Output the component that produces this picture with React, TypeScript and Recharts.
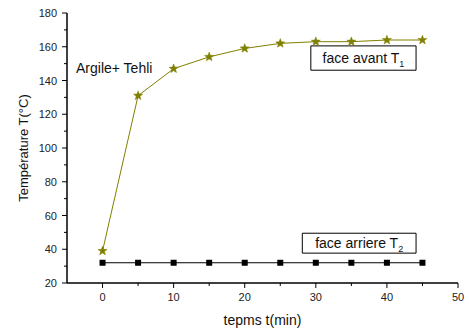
import React from 'react';
import { ComposedChart, Line, XAxis, YAxis, ReferenceArea } from 'recharts';

const times = [0, 5, 10, 15, 20, 25, 30, 35, 40, 45];
const faceAvant = [39, 131, 147, 154, 159, 162, 163, 163, 164, 164];
const faceArriere = [32, 32, 32, 32, 32, 32, 32, 32, 32, 32];
const xTicks = [0, 5, 10, 15, 20, 25, 30, 35, 40, 45, 50];
const yTicks = [20, 30, 40, 50, 60, 70, 80, 90, 100, 110, 120, 130, 140, 150, 160, 170, 180];

const data = times.map((t, i) => ({ t, avant: faceAvant[i], arriere: faceArriere[i] }));

const FONT = '"Liberation Sans", Arial, Helvetica, sans-serif';
const OLIVE = '#808000';

const XTick = (props: any) => {
  const { x, y, payload } = props;
  const v = payload.value;
  const major = v % 10 === 0;
  return (
    <g>
      <line x1={x} x2={x} y1={y} y2={y + (major ? 5 : 3)} stroke="#000" strokeWidth={1} />
      {major && (
        <text x={x} y={y + 18} textAnchor="middle" fontSize={11} fontFamily={FONT} fill="#222">
          {v}
        </text>
      )}
    </g>
  );
};

const YTick = (props: any) => {
  const { x, y, payload } = props;
  const v = payload.value;
  const major = v % 20 === 0;
  return (
    <g>
      <line x1={x} x2={x - (major ? 5 : 3)} y1={y} y2={y} stroke="#000" strokeWidth={1} />
      {major && (
        <text x={x - 10} y={y + 4} textAnchor="end" fontSize={11} fontFamily={FONT} fill="#222">
          {v}
        </text>
      )}
    </g>
  );
};

const Star = (props: any) => {
  const { cx, cy } = props;
  if (cx == null || cy == null) return null;
  const pts: string[] = [];
  for (let i = 0; i < 10; i++) {
    const r = i % 2 === 0 ? 4.8 : 2.0;
    const a = -Math.PI / 2 + (i * Math.PI) / 5;
    pts.push(`${cx + r * Math.cos(a)},${cy + r * Math.sin(a)}`);
  }
  return <polygon points={pts.join(' ')} fill={OLIVE} stroke={OLIVE} strokeWidth={0.5} />;
};

const Square = (props: any) => {
  const { cx, cy } = props;
  if (cx == null || cy == null) return null;
  return <rect x={cx - 3} y={cy - 3} width={6} height={6} fill="#000" />;
};

const BoxLabel = (props: any) => {
  const { viewBox, text, sub } = props;
  if (!viewBox) return null;
  const cx = viewBox.x + viewBox.width / 2;
  const cy = viewBox.y + viewBox.height / 2;
  return (
    <text x={cx} y={cy + 5} textAnchor="middle" fontSize={14} fontFamily={FONT} fill="#111">
      {text}
      <tspan fontSize={9} dy={4}>{sub}</tspan>
    </text>
  );
};

const YTitle = (props: any) => {
  const { viewBox } = props;
  if (!viewBox) return null;
  const cy = viewBox.y + viewBox.height / 2;
  return (
    <text x={23} y={cy} transform={`rotate(-90, 23, ${cy})`} textAnchor="middle" dominantBaseline="central" fontSize={13} fontFamily={FONT} fill="#111">
      Température T(°C)
    </text>
  );
};

const XTitle = (props: any) => {
  const { viewBox } = props;
  if (!viewBox) return null;
  const cx = viewBox.x + viewBox.width / 2;
  return (
    <text x={cx} y={325} textAnchor="middle" fontSize={14} fontFamily={FONT} fill="#111">
      tepms t(min)
    </text>
  );
};

export default function App() {
  return (
    <div style={{ position: 'absolute', left: 0, top: 0, width: 469, height: 332, background: '#fff' }}>
      <ComposedChart width={469} height={332} data={data} margin={{ top: 13, right: 11, bottom: 0, left: 0 }}>
        <XAxis
          xAxisId="b"
          dataKey="t"
          type="number"
          domain={[-5, 50]}
          ticks={xTicks}
          interval={0}
          height={49}
          tickSize={0}
          tickMargin={0}
          tickLine={false}
          tick={<XTick />}
          axisLine={{ stroke: '#000', strokeWidth: 1.5 }}
          label={<XTitle />}
        />
        <XAxis
          xAxisId="top"
          dataKey="t"
          type="number"
          orientation="top"
          domain={[-5, 50]}
          height={0}
          tick={false}
          tickLine={false}
          axisLine={{ stroke: '#000', strokeWidth: 1 }}
        />
        <YAxis
          yAxisId="l"
          type="number"
          domain={[20, 180]}
          ticks={yTicks}
          interval={0}
          width={67}
          tickSize={0}
          tickMargin={0}
          tickLine={false}
          tick={<YTick />}
          axisLine={{ stroke: '#000', strokeWidth: 1.5 }}
          label={<YTitle />}
        />
        <YAxis
          yAxisId="r"
          orientation="right"
          type="number"
          domain={[20, 180]}
          width={0}
          tick={false}
          tickLine={false}
          axisLine={{ stroke: '#666', strokeWidth: 1.5 }}
        />
        <ReferenceArea
          xAxisId="b"
          yAxisId="l"
          x1={29.3}
          x2={44.1}
          y1={146.1}
          y2={160.5}
          fill="#fff"
          fillOpacity={1}
          stroke="#000"
          strokeWidth={1}
          label={<BoxLabel text="face avant T" sub="1" />}
        />
        <ReferenceArea
          xAxisId="b"
          yAxisId="l"
          x1={28.1}
          x2={44.1}
          y1={37.7}
          y2={49.5}
          fill="#fff"
          fillOpacity={1}
          stroke="#000"
          strokeWidth={1}
          label={<BoxLabel text="face arriere T" sub="2" />}
        />
        <Line
          xAxisId="b"
          yAxisId="l"
          dataKey="avant"
          stroke={OLIVE}
          strokeWidth={1}
          dot={<Star />}
          activeDot={false}
          isAnimationActive={false}
        />
        <Line
          xAxisId="b"
          yAxisId="l"
          dataKey="arriere"
          stroke="#000"
          strokeWidth={1}
          dot={<Square />}
          activeDot={false}
          isAnimationActive={false}
        />
      </ComposedChart>
      <svg width={469} height={332} style={{ position: 'absolute', left: 0, top: 0, pointerEvents: 'none' }}>
        <text x={76} y={73} fontSize={14} fontFamily={FONT} fill="#111">Argile+ Tehli</text>
      </svg>
    </div>
  );
}
